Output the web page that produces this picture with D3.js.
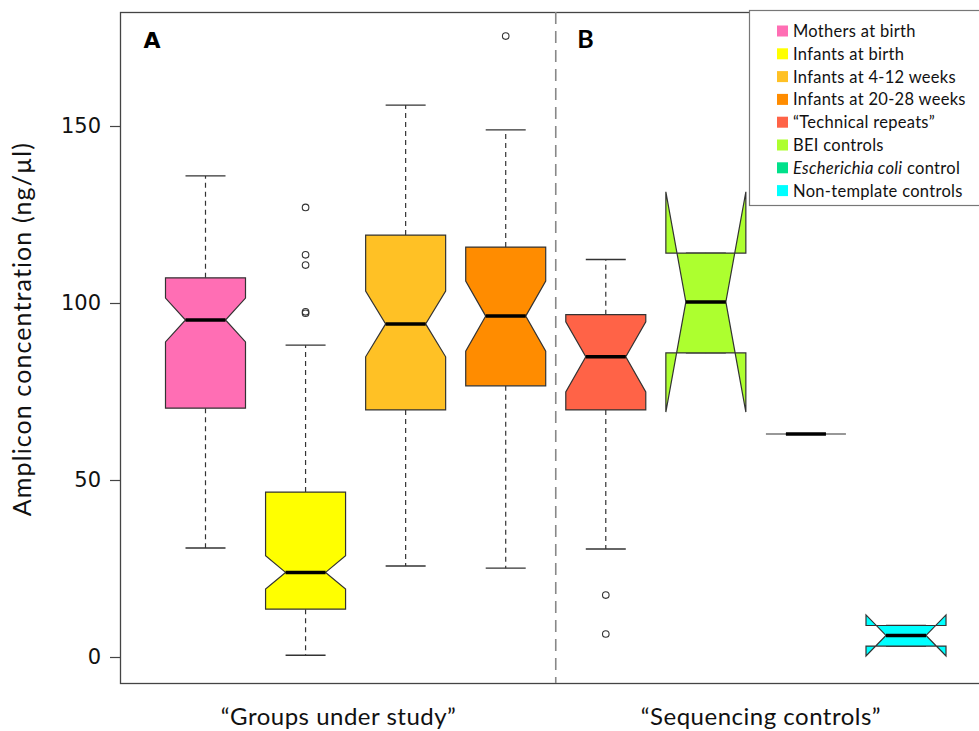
<!DOCTYPE html>
<html>
<head>
<meta charset="utf-8">
<script src="https://cdn.jsdelivr.net/npm/d3@7"></script>
<style>
  html, body { margin: 0; padding: 0; background: #fff; }
  svg { display: block; }
</style>
</head>
<body>
<svg id="chart" width="979" height="731"></svg>
<script>
// Amplicon concentration per sample group (ng/µl), notched box summaries
const categories = [
  "Mothers at birth", "Infants at birth", "Infants at 4-12 weeks", "Infants at 20-28 weeks",
  "\u201CTechnical repeats\u201D", "BEI controls", "Escherichia coli control", "Non-template controls"
];
const colors = ["#FF6EB4", "#FFFF00", "#FFC125", "#FF8C00", "#FF6347", "#ADFF2F", "#00E08A", "#00FFFF"];
const whiskerLow  = [30.8, 0.5, 25.7, 25.1, 30.5, 85.9, 63.0, 3.1];
const q1          = [70.3, 13.5, 69.8, 76.6, 69.8, 85.9, 63.0, 3.1];
const median      = [95.2, 23.9, 94.1, 96.3, 84.8, 100.3, 63.0, 6.1];
const q3          = [107.1, 46.6, 119.2, 115.8, 96.7, 114.1, 63.0, 8.9];
const whiskerHigh = [135.9, 88.1, 155.9, 148.9, 112.3, 114.1, 63.0, 8.9];
const notchLow    = [89.0, 19.2, 84.8, 86.4, 74.9, 69.2, 63.0, 0.3];
const notchHigh   = [101.4, 28.6, 103.4, 106.2, 94.7, 131.4, 63.0, 11.9];
const outliers    = [[], [127.0, 113.6, 110.7, 97.5, 97.1], [], [175.4], [17.5, 6.5], [], [], []];
const yTicks = [0, 50, 100, 150];
const panelLabels = [{ text: "A", pos: 0.38 }, { text: "B", pos: 4.715 }];
const groupLabels = [{ text: "\u201CGroups under study\u201D", pos: 2.33 }, { text: "\u201CSequencing controls\u201D", pos: 6.55 }];

const svg = d3.select("#chart");
const frame = { left: 120, right: 990, top: 12, bottom: 683 };

const x = d3.scaleLinear().domain([1, 8]).range([205.5, 906]);
const y = d3.scaleLinear().domain([0, 150]).range([657, 126]);
const halfW = 40;      // half box width in px
const notchFrac = 0.5; // notch / staple width relative to box

const data = categories.map((c, i) => ({
  name: c, color: colors[i], i: i + 1,
  wlo: whiskerLow[i], q1: q1[i], med: median[i], q3: q3[i], whi: whiskerHigh[i],
  nlo: notchLow[i], nhi: notchHigh[i], out: outliers[i]
}));

// Plot frame
svg.append("rect")
  .attr("x", frame.left + 0.5).attr("y", frame.top + 0.5)
  .attr("width", frame.right - frame.left).attr("height", frame.bottom - frame.top)
  .attr("fill", "none").attr("stroke", "#444").attr("stroke-width", 1.3);

// Y axis
const yAxis = d3.axisLeft(y).tickValues(yTicks).tickSize(10).tickPadding(9).tickFormat(d3.format("d"));
const gy = svg.append("g").attr("transform", `translate(${frame.left},0)`).call(yAxis)
  .attr("font-family", "DejaVu Sans, Verdana, sans-serif").attr("font-size", 21);
gy.select(".domain").remove();
gy.selectAll(".tick line").attr("stroke", "#444").attr("stroke-width", 1.2);
gy.selectAll(".tick text").attr("fill", "#111");

svg.append("text")
  .attr("transform", `translate(31,329) rotate(-90)`)
  .attr("text-anchor", "middle")
  .attr("font-family", "Lato, sans-serif").attr("font-size", 25)
  .attr("letter-spacing", 1.1).attr("fill", "#111")
  .text("Amplicon concentration (ng/\u00B5l)");

// Separator between study groups and sequencing controls
svg.append("line")
  .attr("x1", x(4.5)).attr("x2", x(4.5))
  .attr("y1", frame.top).attr("y2", frame.bottom)
  .attr("stroke", "#888").attr("stroke-width", 1.6).attr("stroke-dasharray", "12,7");

// Boxes
const g = svg.append("g");
const box = g.selectAll("g.box").data(data).join("g").attr("class", "box");

// whiskers (dashed)
box.append("line")
  .attr("x1", d => x(d.i)).attr("x2", d => x(d.i))
  .attr("y1", d => y(d.q3)).attr("y2", d => y(d.whi))
  .attr("stroke", "#333").attr("stroke-width", 1.2).attr("stroke-dasharray", "5,4");
box.append("line")
  .attr("x1", d => x(d.i)).attr("x2", d => x(d.i))
  .attr("y1", d => y(d.q1)).attr("y2", d => y(d.wlo))
  .attr("stroke", "#333").attr("stroke-width", 1.2).attr("stroke-dasharray", "5,4");
// staples
box.append("line")
  .attr("x1", d => x(d.i) - halfW * notchFrac).attr("x2", d => x(d.i) + halfW * notchFrac)
  .attr("y1", d => y(d.whi)).attr("y2", d => y(d.whi))
  .attr("stroke", "#333").attr("stroke-width", 1.4);
box.append("line")
  .attr("x1", d => x(d.i) - halfW * notchFrac).attr("x2", d => x(d.i) + halfW * notchFrac)
  .attr("y1", d => y(d.wlo)).attr("y2", d => y(d.wlo))
  .attr("stroke", "#333").attr("stroke-width", 1.4);

// notched box outline
box.append("path")
  .attr("d", d => {
    const cx = x(d.i);
    const pts = [
      [cx - halfW, y(d.q1)], [cx + halfW, y(d.q1)], [cx + halfW, y(d.nlo)],
      [cx + halfW * notchFrac, y(d.med)], [cx + halfW, y(d.nhi)], [cx + halfW, y(d.q3)],
      [cx - halfW, y(d.q3)], [cx - halfW, y(d.nhi)], [cx - halfW * notchFrac, y(d.med)],
      [cx - halfW, y(d.nlo)]
    ];
    return d3.line()(pts) + "Z";
  })
  .attr("fill", d => d.color).attr("stroke", "#333").attr("stroke-width", 1.2)
  .attr("stroke-linejoin", "miter");

// medians
box.append("line")
  .attr("x1", d => x(d.i) - halfW * notchFrac).attr("x2", d => x(d.i) + halfW * notchFrac)
  .attr("y1", d => y(d.med)).attr("y2", d => y(d.med))
  .attr("stroke", "#000").attr("stroke-width", 3.5);

// outliers
box.selectAll("circle").data(d => d.out.map(v => ({ i: d.i, v }))).join("circle")
  .attr("cx", d => x(d.i)).attr("cy", d => y(d.v)).attr("r", 3.3)
  .attr("fill", "none").attr("stroke", "#333").attr("stroke-width", 1.1);

// Panel letters
svg.selectAll("text.panel").data(panelLabels).join("text")
  .attr("class", "panel")
  .attr("x", d => x(d.pos)).attr("y", 48)
  .attr("font-family", (d, i) => i === 0 ? "DejaVu Sans, sans-serif" : "Lato, sans-serif")
  .attr("font-weight", "bold")
  .attr("font-size", (d, i) => i === 0 ? 22 : 25)
  .attr("fill", "#000")
  .text(d => d.text);

// Group captions under the plot
svg.selectAll("text.group").data(groupLabels).join("text")
  .attr("class", "group")
  .attr("x", d => x(d.pos)).attr("y", 725)
  .attr("text-anchor", "middle")
  .attr("font-family", "Lato, sans-serif").attr("font-size", 24)
  .attr("letter-spacing", 0.5).attr("fill", "#111")
  .text(d => d.text);

// Legend
const legend = svg.append("g").attr("transform", "translate(749,10)");
legend.append("rect")
  .attr("x", 0.5).attr("y", 0.5).attr("width", 240).attr("height", 195)
  .attr("fill", "#fff").attr("stroke", "#777").attr("stroke-width", 1.2);
const item = legend.selectAll("g.item").data(data).join("g")
  .attr("class", "item")
  .attr("transform", (d, i) => `translate(0,${21 + i * 22.8})`);
item.append("rect")
  .attr("x", 28).attr("y", -5.5).attr("width", 11).attr("height", 11)
  .attr("fill", d => d.color);
item.append("text")
  .attr("x", 44).attr("y", 6)
  .attr("font-family", "Lato, sans-serif").attr("font-size", 16.5)
  .attr("letter-spacing", 0.3).attr("fill", "#111")
  .each(function (d) {
    const t = d3.select(this);
    if (d.name === "Escherichia coli control") {
      t.append("tspan").attr("font-style", "italic").text("Escherichia coli");
      t.append("tspan").text(" control");
    } else {
      t.text(d.name);
    }
  });
</script>
</body>
</html>
